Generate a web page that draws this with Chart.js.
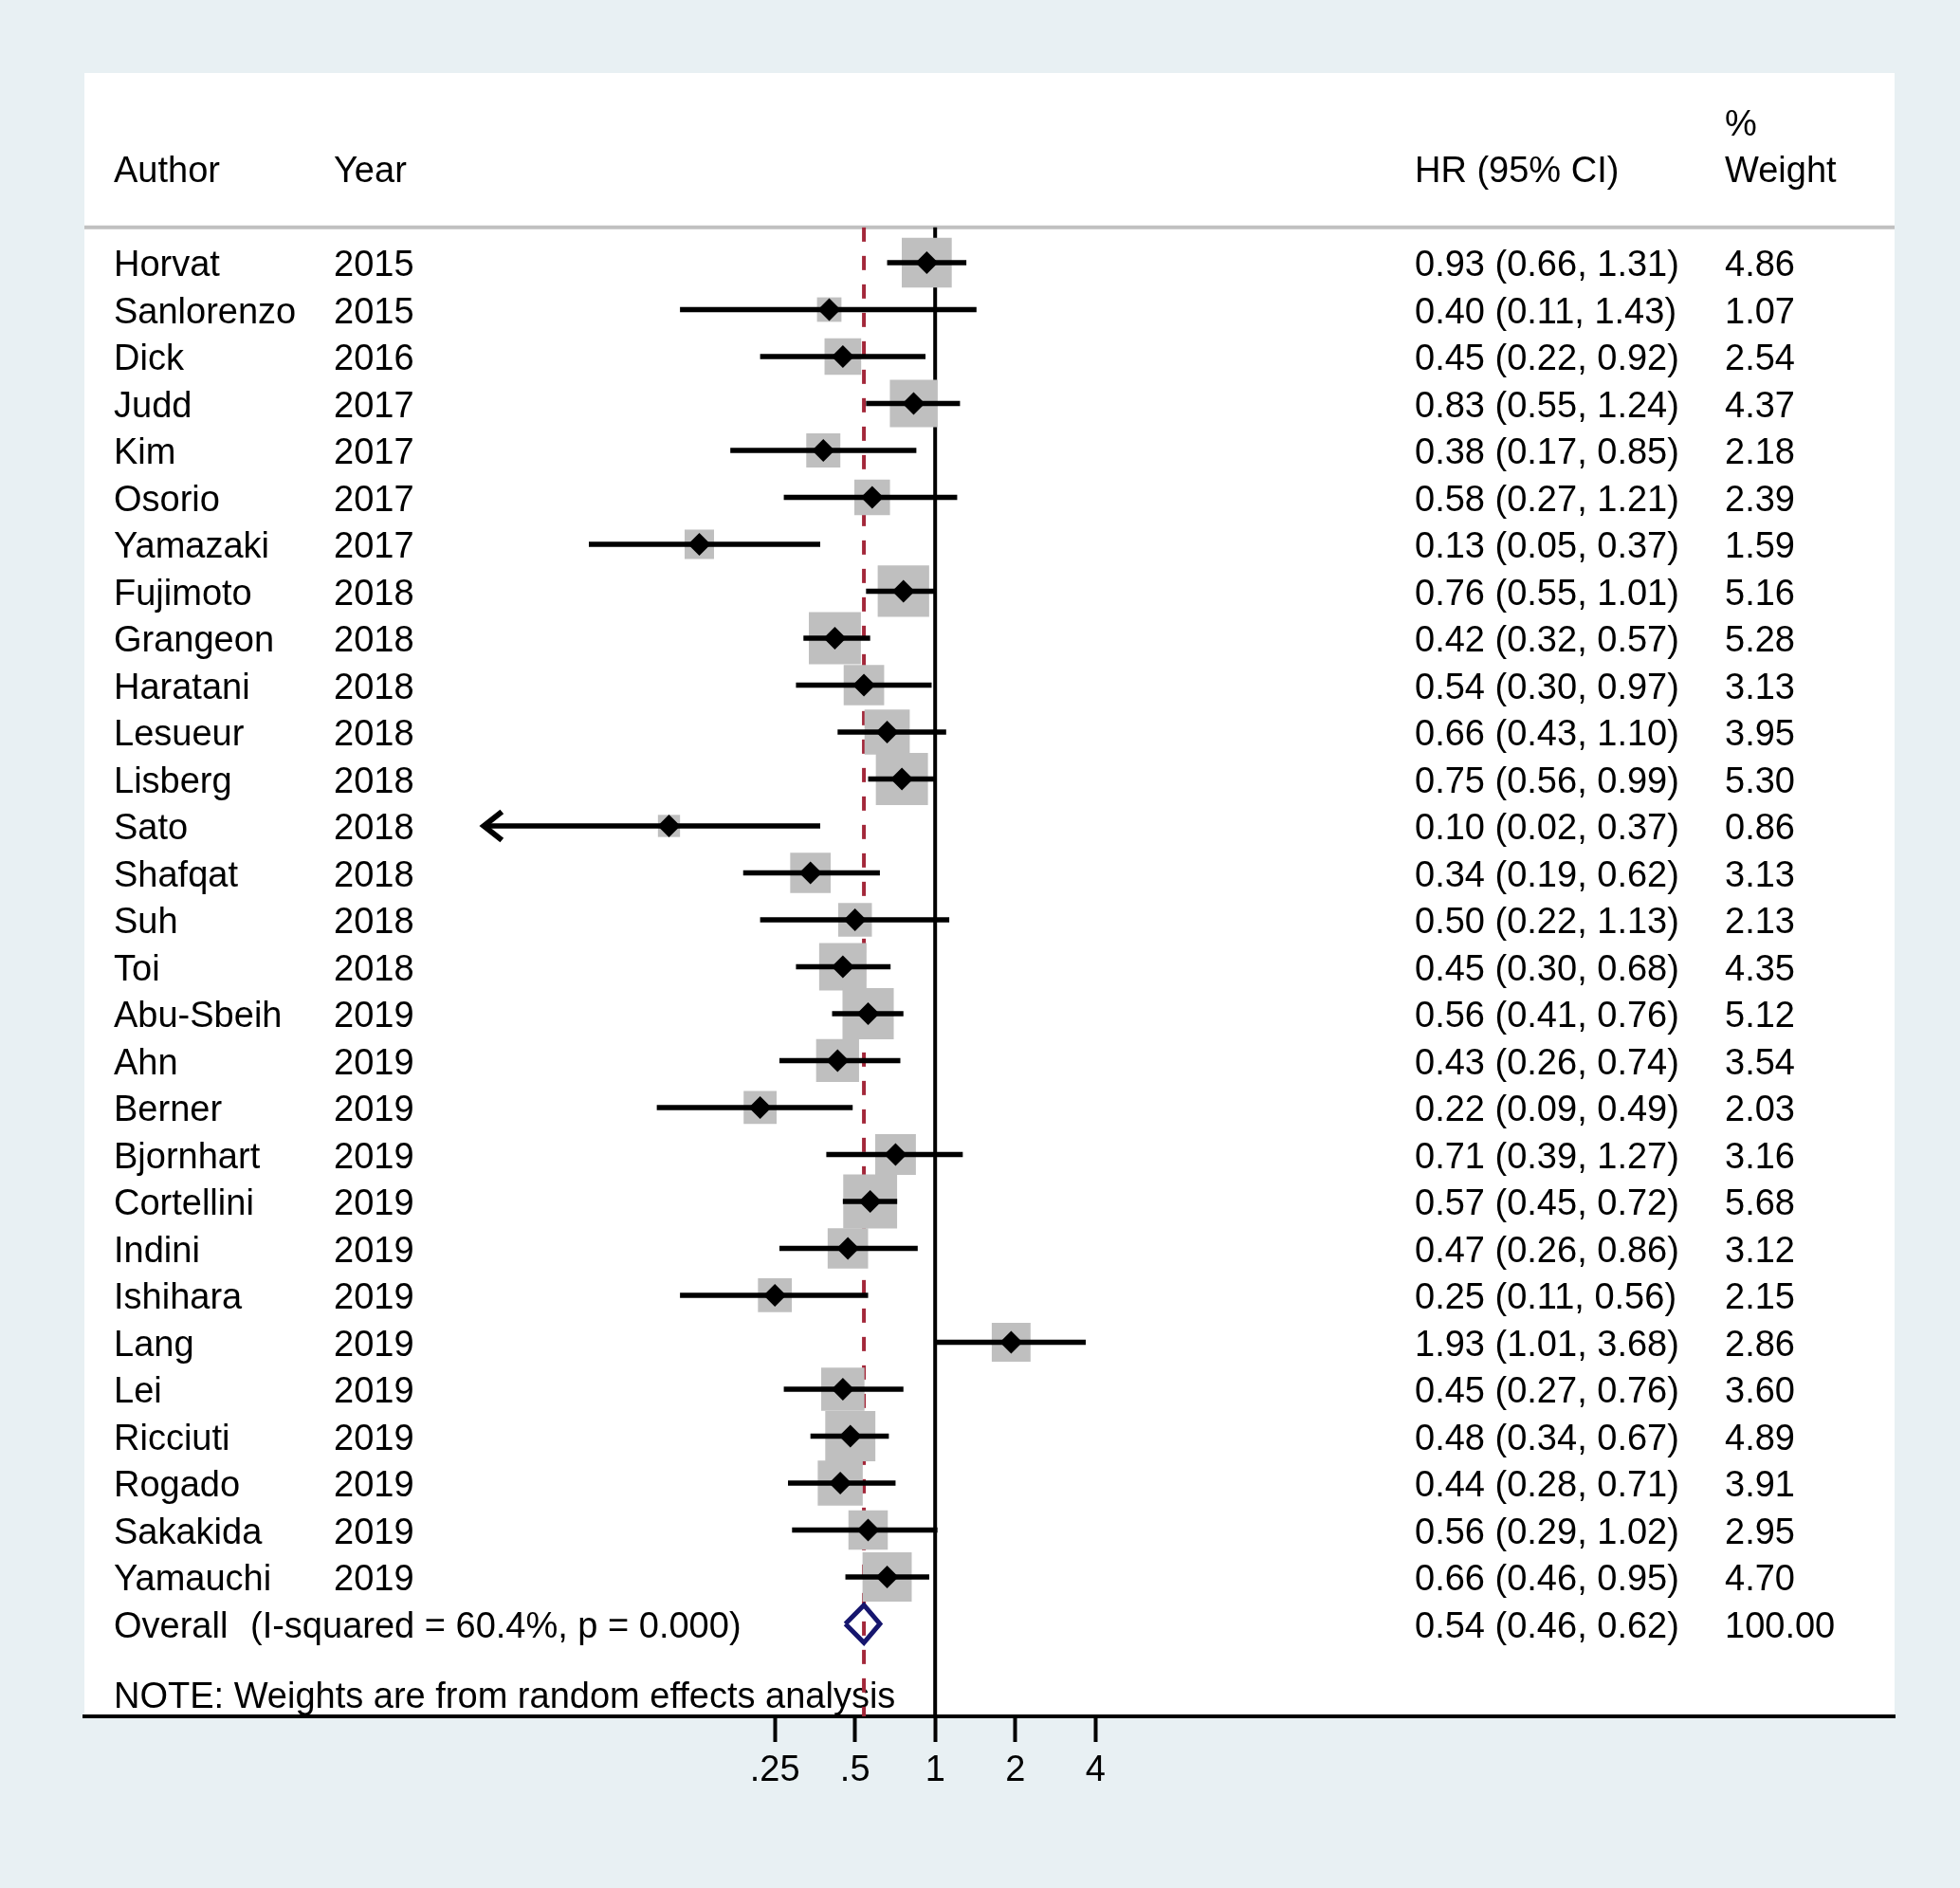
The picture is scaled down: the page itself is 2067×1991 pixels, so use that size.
<!DOCTYPE html>
<html lang="en">
<head>
  <meta charset="UTF-8" />
  <title>Forest plot - HR (95% CI)</title>
  <style>
    /* page = one canvas, same size as the picture */
    body { margin: 0; background: #e8f0f3; overflow: hidden; }
    #box { width: 2067px; height: 1991px; }
    canvas { display: block; }
  </style>
</head>
<body>
  <div id="box">
    <canvas id="forest" width="2067" height="1991"></canvas>
  </div>

  <script src="https://cdn.jsdelivr.net/npm/chart.js@4.4.1/dist/chart.umd.min.js"></script>
  <script>
    // --------------------------
    // data
    // --------------------------
    const authors = ["Horvat", "Sanlorenzo", "Dick", "Judd", "Kim", "Osorio", "Yamazaki",
      "Fujimoto", "Grangeon", "Haratani", "Lesueur", "Lisberg", "Sato", "Shafqat", "Suh", "Toi",
      "Abu-Sbeih", "Ahn", "Berner", "Bjornhart", "Cortellini", "Indini", "Ishihara", "Lang",
      "Lei", "Ricciuti", "Rogado", "Sakakida", "Yamauchi"];
    const years = [2015, 2015, 2016, 2017, 2017, 2017, 2017,
      2018, 2018, 2018, 2018, 2018, 2018, 2018, 2018, 2018,
      2019, 2019, 2019, 2019, 2019, 2019, 2019, 2019,
      2019, 2019, 2019, 2019, 2019];
    const hr = [0.93, 0.40, 0.45, 0.83, 0.38, 0.58, 0.13,
      0.76, 0.42, 0.54, 0.66, 0.75, 0.10, 0.34, 0.50, 0.45,
      0.56, 0.43, 0.22, 0.71, 0.57, 0.47, 0.25, 1.93,
      0.45, 0.48, 0.44, 0.56, 0.66];
    const lower = [0.66, 0.11, 0.22, 0.55, 0.17, 0.27, 0.05,
      0.55, 0.32, 0.30, 0.43, 0.56, 0.02, 0.19, 0.22, 0.30,
      0.41, 0.26, 0.09, 0.39, 0.45, 0.26, 0.11, 1.01,
      0.27, 0.34, 0.28, 0.29, 0.46];
    const upper = [1.31, 1.43, 0.92, 1.24, 0.85, 1.21, 0.37,
      1.01, 0.57, 0.97, 1.10, 0.99, 0.37, 0.62, 1.13, 0.68,
      0.76, 0.74, 0.49, 1.27, 0.72, 0.86, 0.56, 3.68,
      0.76, 0.67, 0.71, 1.02, 0.95];
    const weights = [4.86, 1.07, 2.54, 4.37, 2.18, 2.39, 1.59,
      5.16, 5.28, 3.13, 3.95, 5.30, 0.86, 3.13, 2.13, 4.35,
      5.12, 3.54, 2.03, 3.16, 5.68, 3.12, 2.15, 2.86,
      3.60, 4.89, 3.91, 2.95, 4.70];

    const overallHR = 0.54;
    const overallCI = [0.46, 0.62];
    const overallWeight = "100.00";
    const overallText = "(I-squared = 60.4%, p = 0.000)";
    const noteText = "NOTE: Weights are from random effects analysis";

    const tickValues = [0.25, 0.5, 1, 2, 4];
    const tickLabels = [".25", ".5", "1", "2", "4"];

    // CIs that run off the left of the plot get an arrow
    const arrowBelow = 0.03;

    // --------------------------
    // layout (row units on y, text columns in px)
    // --------------------------
    const FONT = '38px "Liberation Sans", Arial, sans-serif';
    const TEXT_DY = 4;                          // 'middle' sits a bit high
    const yMin = -4.04, yMax = 30.97;           // row scale of the panel
    const headerRow = -0.75;                    // grey rule under the header
    const overallRow = authors.length;          // 29
    const noteRow = overallRow + 1.5;
    const colAuthor = 120, colYear = 352, colHR = 1492, colWeight = 1819, colHet = 264;
    // 1 sits at 986px, one doubling = 84.5px, plot spans 89..1998px
    const xMin = Math.pow(2, (89 - 986.2) / 84.5);
    const xMax = Math.pow(2, (1998 - 986.2) / 84.5);

    function boxRadius(w) {
      const side = 23 * Math.sqrt(w) + 2;   // area ~ weight
      return side / Math.SQRT2;             // chart.js 'rect' side = r*sqrt2
    }
    function fmt(v) { return v.toFixed(2); }

    // ---------------------------------------------------
    // datasets
    // ---------------------------------------------------
    const ciSets = hr.map((v, i) => ({
      type: 'line',
      data: [{ x: lower[i], y: i }, { x: upper[i], y: i }],
      borderColor: '#000',
      borderWidth: 5.5,
      pointRadius: 0,
      order: 3
    }));

    const datasets = [
      {
        // null line at HR = 1
        type: 'line',
        data: [{ x: 1, y: headerRow }, { x: 1, y: yMax }],
        borderColor: '#000',
        borderWidth: 4,
        pointRadius: 0,
        order: 7
      },
      {
        // overall effect, dashed
        type: 'line',
        data: [{ x: overallHR, y: headerRow }, { x: overallHR, y: yMax }],
        borderColor: '#a3283a',
        borderWidth: 4,
        borderDash: [15, 15],
        pointRadius: 0,
        order: 6
      },
      {
        // weight boxes
        type: 'scatter',
        data: hr.map((v, i) => ({ x: v, y: i })),
        pointStyle: 'rect',
        pointRadius: ctx => boxRadius(weights[ctx.dataIndex]),
        backgroundColor: '#bfbfbf',
        borderWidth: 0,
        order: 5
      },
      ...ciSets,
      {
        // point estimates
        type: 'scatter',
        data: hr.map((v, i) => ({ x: v, y: i })),
        pointStyle: 'rectRot',
        pointRadius: 12,
        backgroundColor: '#000',
        borderWidth: 0,
        order: 2
      },
      {
        // overall diamond
        type: 'line',
        data: [
          { x: overallCI[0], y: overallRow },
          { x: overallHR, y: overallRow - 0.4 },
          { x: overallCI[1], y: overallRow },
          { x: overallHR, y: overallRow + 0.4 },
          { x: overallCI[0], y: overallRow }
        ],
        borderColor: '#16166e',
        borderWidth: 5,
        borderJoinStyle: 'miter',
        pointRadius: 0,
        fill: false,
        order: 1
      }
    ];

    // ---------------------------------------------------
    // plugins: panel background, table text, arrows
    // ---------------------------------------------------
    const panelPlugin = {
      id: 'panel',
      beforeDraw(chart) {
        const { ctx, chartArea: a, scales: { y } } = chart;
        ctx.save();
        ctx.fillStyle = '#e8f0f3';
        ctx.fillRect(0, 0, chart.width, chart.height);
        ctx.fillStyle = '#fff';
        ctx.fillRect(a.left, a.top, a.right - a.left, a.bottom - a.top);
        ctx.strokeStyle = '#c0c0c0';
        ctx.lineWidth = 4;
        const hy = y.getPixelForValue(headerRow);
        ctx.beginPath();
        ctx.moveTo(a.left, hy);
        ctx.lineTo(a.right, hy);
        ctx.stroke();
        ctx.restore();
      },
      beforeDatasetsDraw(chart) {
        const { ctx, scales: { y } } = chart;
        ctx.save();
        ctx.font = FONT;
        ctx.fillStyle = '#000';
        ctx.textBaseline = 'middle';
        ctx.textAlign = 'left';
        const put = (t, x, row) => ctx.fillText(t, x, y.getPixelForValue(row) + TEXT_DY);

        // header
        put("Author", colAuthor, -2);
        put("Year", colYear, -2);
        put("HR (95% CI)", colHR, -2);
        put("%", colWeight, -3);
        put("Weight", colWeight, -2);

        // studies
        authors.forEach((a, i) => {
          put(a, colAuthor, i);
          put(String(years[i]), colYear, i);
          put(fmt(hr[i]) + " (" + fmt(lower[i]) + ", " + fmt(upper[i]) + ")", colHR, i);
          put(fmt(weights[i]), colWeight, i);
        });

        // overall + note
        put("Overall", colAuthor, overallRow);
        put(overallText, colHet, overallRow);
        put(fmt(overallHR) + " (" + fmt(overallCI[0]) + ", " + fmt(overallCI[1]) + ")", colHR, overallRow);
        put(overallWeight, colWeight, overallRow);
        put(noteText, colAuthor, noteRow);
        ctx.restore();
      },
      afterDatasetsDraw(chart) {
        const { ctx, scales: { x, y } } = chart;
        ctx.save();
        ctx.strokeStyle = '#000';
        ctx.lineWidth = 6;
        ctx.lineJoin = 'miter';
        lower.forEach((lo, i) => {
          if (lo >= arrowBelow) return;
          const px = x.getPixelForValue(lo), py = y.getPixelForValue(i);
          ctx.beginPath();
          ctx.moveTo(px + 20, py - 15);
          ctx.lineTo(px + 1, py);
          ctx.lineTo(px + 20, py + 15);
          ctx.stroke();
        });
        ctx.restore();
      }
    };

    // ---------------------------------------------------
    // chart
    // ---------------------------------------------------
    new Chart(document.getElementById('forest').getContext('2d'), {
      data: { datasets: datasets },
      plugins: [panelPlugin],
      options: {
        responsive: false,
        devicePixelRatio: 1,
        animation: false,
        layout: { padding: { left: 89, right: 69, top: 77, bottom: 0 } },
        plugins: { legend: { display: false }, tooltip: { enabled: false } },
        scales: {
          x: {
            type: 'logarithmic',
            position: 'bottom',
            min: xMin,
            max: xMax,
            afterBuildTicks(s) {
              // only the Stata ticks, and keep the exact range (log ticks round the min)
              s.ticks = tickValues.map(v => ({ value: v }));
              s.min = xMin;
              s.max = xMax;
            },
            afterFit(s) { s.height = 181; },
            ticks: {
              autoSkip: false,
              maxRotation: 0,
              padding: 8,
              color: '#000',
              font: { family: '"Liberation Sans", Arial, sans-serif', size: 38 },
              callback: (v, i) => tickLabels[i]
            },
            grid: {
              display: true,
              drawOnChartArea: false,
              drawTicks: true,
              tickLength: 27,
              tickWidth: 4,
              tickColor: '#000'
            },
            border: { display: true, color: '#000', width: 4 }
          },
          y: {
            type: 'linear',
            reverse: true,
            min: yMin,
            max: yMax,
            display: false
          }
        }
      }
    });
  </script>
</body>
</html>
